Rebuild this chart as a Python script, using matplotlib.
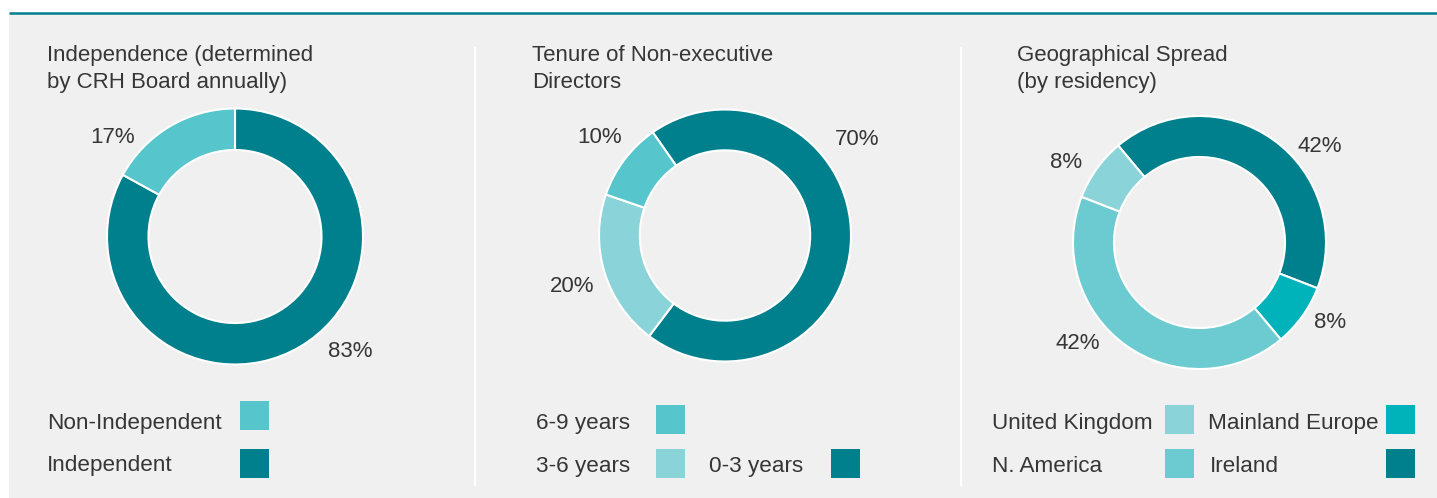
import numpy as np
import matplotlib
matplotlib.use("Agg")
import matplotlib.pyplot as plt
from matplotlib.patches import Rectangle

plt.rcParams["font.family"] = ["Liberation Sans", "DejaVu Sans"]

# ---- data -------------------------------------------------------------
indep_labels = ["Independent", "Non-Independent"]
indep_values = [83, 17]

tenure_labels = ["0-3 years", "3-6 years", "6-9 years"]
tenure_values = [70, 20, 10]

geo_labels = ["Ireland", "Mainland Europe", "N. America", "United Kingdom"]
geo_values = [42, 8, 42, 8]

titles = [
    "Independence (determined\nby CRH Board annually)",
    "Tenure of Non-executive\nDirectors",
    "Geographical Spread\n(by residency)",
]

# ---- style ------------------------------------------------------------
DARK = "#007f8c"
MID = "#56c5cc"
PALE = "#8ad3d8"
BRIGHT = "#00b2b9"
SOFT = "#6ccbd0"
BG = "#f0f0f0"
TXT = "#363636"

colors = {
    "Independent": DARK, "Non-Independent": MID,
    "0-3 years": DARK, "3-6 years": PALE, "6-9 years": MID,
    "Ireland": DARK, "Mainland Europe": BRIGHT,
    "N. America": SOFT, "United Kingdom": PALE,
}

W, H = 1437, 498
fig = plt.figure(figsize=(W / 100, H / 100), dpi=100)
fig.patch.set_facecolor("white")

# overlay in pixel coordinates
ov = fig.add_axes([0, 0, 1, 1])
ov.set_xlim(0, W)
ov.set_ylim(H, 0)
ov.axis("off")
ov.add_patch(Rectangle((9, 13), W - 9, H - 13, color=BG, lw=0, zorder=0))
ov.plot([9, W], [12.5, 12.5], color=DARK, lw=1.8, solid_capstyle="butt", zorder=2)
for sx in (475, 961):
    ov.plot([sx, sx], [48, 485], color="white", lw=1.6, zorder=1)

PX = 125.0  # pixels per data unit inside each donut axes
HALF = 200  # half-size of donut axes in pixels


def donut(cx, cy, rpx, values, labels, start, label_pos):
    ax = fig.add_axes([(cx - HALF) / W, (H - cy - HALF) / H, 2 * HALF / W, 2 * HALF / H])
    ax.axis("off")
    r = rpx / PX
    ax.pie(
        values,
        colors=[colors[l] for l in labels],
        radius=r,
        startangle=start,
        counterclock=False,
        wedgeprops=dict(width=r * 0.324, edgecolor="white", linewidth=1.5),
    )
    ax.set_xlim(-HALF / PX, HALF / PX)
    ax.set_ylim(-HALF / PX, HALF / PX)
    for v, (ang, fac) in zip(values, label_pos):
        a = np.deg2rad(ang)
        ax.text(fac * r * np.cos(a), fac * r * np.sin(a), f"{v}%",
                ha="center", va="center", fontsize=16, color=TXT)
    return ax


donut(235, 236.5, 128, indep_values, indep_labels, 90,
      [(-45, 1.27), (141, 1.23)])
donut(725, 235.5, 126, tenure_values, tenure_labels, 125,
      [(36, 1.30), (198.6, 1.28), (142, 1.26)])
donut(1199.5, 242.5, 126.5, geo_values, geo_labels, 130,
      [(38.7, 1.22), (-31.4, 1.21), (219.6, 1.25), (149, 1.23)])

# titles
for x, t in zip((47, 532, 1017), titles):
    for i, line in enumerate(t.split("\n")):
        ov.text(x, 61 + 27 * i, line, fontsize=16, color=TXT, ha="left", va="baseline")

# legends: (label, text x, baseline y, box x, box top y)
legend_rows = [
    ("Non-Independent", 47, 429, 240, 401),
    ("Independent", 47, 471, 240, 449),
    ("6-9 years", 536, 429, 656, 405),
    ("3-6 years", 536, 472, 656, 449),
    ("0-3 years", 709, 472, 831, 449),
    ("United Kingdom", 992, 429, 1165, 405),
    ("Mainland Europe", 1208, 429, 1386, 405),
    ("N. America", 992, 472, 1165, 449),
    ("Ireland", 1210, 472, 1386, 449),
]
for lab, tx, ty, bx, by in legend_rows:
    ov.text(tx, ty, lab, fontsize=16.2, color=TXT, ha="left", va="baseline")
    ov.add_patch(Rectangle((bx, by), 29, 29, color=colors[lab], lw=0, zorder=2))

fig.savefig("out.png", dpi=100, facecolor=fig.get_facecolor())
